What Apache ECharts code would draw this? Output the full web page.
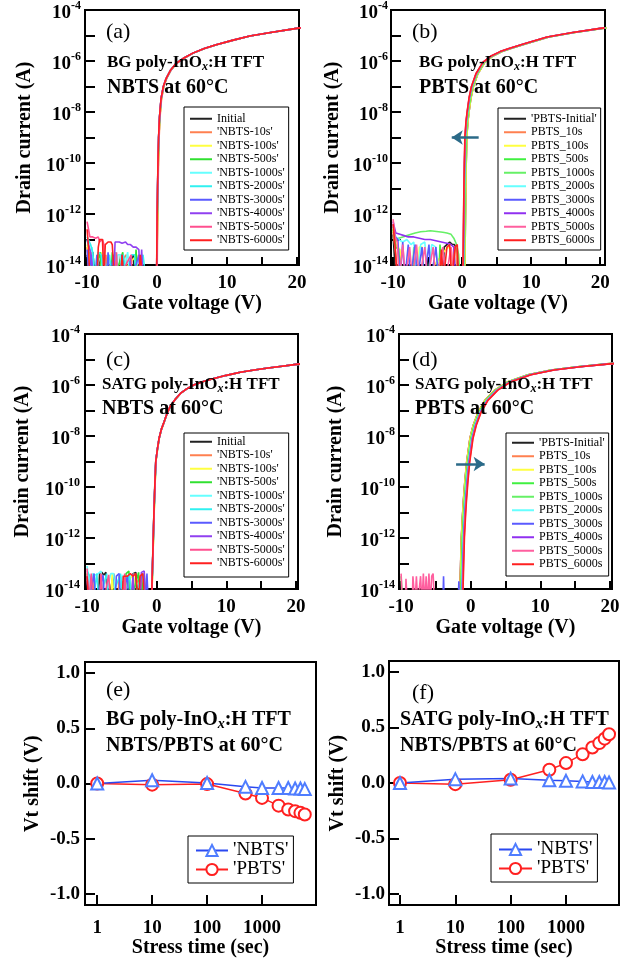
<!DOCTYPE html>
<html>
<head>
<meta charset="utf-8">
<script src="https://cdn.jsdelivr.net/npm/echarts@6/dist/echarts.min.js"></script>
<style>
  html, body { margin: 0; padding: 0; background: #fff; }
  #chart { width: 626px; height: 959px; }
</style>
</head>
<body>
<div id="chart"></div>
<script>
const F = '"Liberation Serif", "Times New Roman", serif';

// stress times (s), t=1 stands for the initial curve
const stressTime = [1, 10, 100, 500, 1000, 2000, 3000, 4000, 5000, 6000];
// Vt shift (V) (e) and (f)
const nbtsBG = [0, 0.03, 0.005, -0.03, -0.04, -0.04, -0.04, -0.045, -0.045, -0.05];
const pbtsBG = [0, -0.01, -0.005, -0.09, -0.13, -0.2, -0.235, -0.25, -0.265, -0.28];
const nbtsSATG = [0, 0.035, 0.04, 0.025, 0.02, 0.015, 0.01, 0.01, 0.01, 0.005];
const pbtsSATG = [0, -0.01, 0.03, 0.12, 0.18, 0.26, 0.32, 0.36, 0.40, 0.44];

const nbtsNames = ['Initial', "'NBTS-10s'", "'NBTS-100s'", "'NBTS-500s'", "'NBTS-1000s'", "'NBTS-2000s'", "'NBTS-3000s'", "'NBTS-4000s'", "'NBTS-5000s'", "'NBTS-6000s'"];
const pbtsNames = ["'PBTS-Initial'", 'PBTS_10s', 'PBTS_100s', 'PBTS_500s', 'PBTS_1000s', 'PBTS_2000s', 'PBTS_3000s', 'PBTS_4000s', 'PBTS_5000s', 'PBTS_6000s'];
const nbtsColors = ['#222222', '#ff8050', '#ffff40', '#30e030', '#66ffff', '#30f0f0', '#5a5aff', '#9040f0', '#ff4f8f', '#ff2020'];
const pbtsColors = ['#222222', '#ff8050', '#ffff40', '#40f040', '#66f066', '#66ffff', '#5a5aff', '#9030f0', '#ff5f9f', '#ff2020'];

// on-state part of the initial transfer curves: [Vg (V), log10 Id (A)]
const onA = [[-0.02,-14.6],[0,-14],[0.03,-13],[0.07,-12],[0.12,-11],[0.18,-10],[0.27,-9],[0.4,-8.2],[0.62,-7.48],[0.95,-7.0],[1.34,-6.69],[2.0,-6.35],[2.78,-6.09],[3.9,-5.88],[5.17,-5.69],[6.8,-5.51],[8.5,-5.36],[10.8,-5.19],[13.3,-5.02],[16.5,-4.87],[20,-4.72],[20.6,-4.7]];
const onB = [[0.38,-14.6],[0.41,-14],[0.45,-13],[0.49,-12],[0.54,-11],[0.6,-10],[0.68,-9],[0.83,-8.4],[1.0,-8],[1.28,-7.45],[1.63,-7.0],[2.28,-6.5],[3.28,-6.05],[4.48,-5.8],[5.78,-5.63],[7.18,-5.5],[9.28,-5.32],[12.58,-5.06],[16.28,-4.88],[20.28,-4.72],[20.9,-4.7]];
const onC = [[-0.75,-14.6],[-0.7,-14],[-0.6,-13],[-0.5,-12],[-0.4,-11],[-0.28,-10],[-0.14,-9],[0.1,-8.5],[0.33,-8.1],[0.65,-7.75],[1.05,-7.45],[1.5,-7.1],[2.0,-6.8],[2.7,-6.55],[3.4,-6.33],[4.3,-6.15],[5.3,-6.0],[6.7,-5.86],[8.2,-5.74],[10,-5.62],[12,-5.5],[14,-5.41],[16,-5.33],[18,-5.26],[20,-5.19],[20.6,-5.18]];
const onD = [[-1.59,-14.6],[-1.54,-14],[-1.44,-13],[-1.34,-12],[-1.19,-11.2],[-1.06,-10.6],[-0.84,-9.8],[-0.58,-9.03],[-0.11,-8.1],[0.37,-7.58],[1.08,-7.06],[2.04,-6.6],[3.46,-6.2],[5.36,-5.87],[8.23,-5.6],[11.56,-5.41],[15.36,-5.28],[19.56,-5.17],[20.6,-5.15]];

// off-state noise per stress step: [Vg (V), log10 Id (A)], -14.6 = below the axis floor
const noiseA = [
  [[-10,-13.6],[-9.8,-14.6],[-9.2,-13.5],[-8.8,-14.6],[-7.9,-13.6],[-7.7,-14.6],[-5.4,-14.6],[-5.2,-13.6],[-5,-14.6],[-3.4,-13.6],[-3.2,-14.6]],
  [[-10,-13.3],[-9.7,-14.6],[-9.3,-13.5],[-9,-14.6],[-7.5,-14.6],[-7.3,-13.6],[-7.1,-14.6],[-4.4,-13.6],[-4.2,-14.6]],
  [[-10,-13.2],[-9.6,-13.7],[-9.4,-14.6],[-8.2,-14.6],[-8,-13.5],[-7.8,-14.6],[-6.0,-13.6],[-5.8,-14.6],[-2.9,-13.6],[-2.7,-14.6]],
  [[-10,-13.0],[-9.5,-13.6],[-9.2,-14.6],[-8.1,-13.5],[-7.9,-14.6],[-6.6,-14.6],[-6.4,-13.5],[-6.2,-14.6],[-4.9,-13.5],[-4.7,-14.6],[-3.2,-14.6],[-3,-13.4],[-2.8,-14.6]],
  [[-10,-13.0],[-9.6,-13.5],[-9.3,-13.3],[-9,-14.6],[-8.6,-13.6],[-8.2,-14.6],[-7.6,-13.5],[-7.2,-14.6],[-5.8,-14.6],[-5.6,-13.6],[-5.2,-13.6],[-5,-14.6],[-4.2,-13.5],[-3.8,-14.6],[-2.4,-13.6],[-2.2,-14.6]],
  [[-10,-12.9],[-9.5,-13.2],[-9.2,-13.5],[-8.8,-14.6],[-8.4,-13.5],[-8,-13.6],[-7.6,-14.6],[-6.8,-13.6],[-6.4,-14.6],[-5.9,-13.5],[-5.6,-14.6],[-4.8,-13.6],[-4.4,-14.6],[-3.6,-13.6],[-3.2,-13.6],[-3,-14.6],[-2,-13.6],[-1.6,-14.6]],
  [[-10,-13.4],[-9.7,-14.6],[-9.4,-13.6],[-9.2,-14.6],[-8.8,-14.6],[-8.6,-13.6],[-8.3,-14.6],[-7.2,-14.6],[-7,-13.5],[-6.8,-14.6],[-6.2,-13.6],[-6,-14.6],[-5.2,-14.6],[-5,-13.6],[-4.7,-14.6],[-4,-14.6],[-3.8,-13.7],[-3.6,-14.6],[-2.6,-13.6],[-2.4,-14.6]],
  [[-10,-13.0],[-9.5,-13.5],[-9,-14.6],[-6.2,-14.6],[-6,-13.1],[-5.4,-13.1],[-5,-13.15],[-4.5,-13.1],[-4.2,-13.2],[-3.8,-13.2],[-3.4,-13.3],[-3,-13.3],[-2.6,-13.4],[-2.4,-14.6],[-2.2,-13.4],[-2,-14.6]],
  [[-10,-12.3],[-9.8,-12.6],[-9.6,-12.9],[-9.2,-12.9],[-8.8,-12.95],[-8.4,-12.9],[-8.2,-13.1],[-7.8,-13.0],[-7.6,-13.2],[-7.4,-14.6],[-6,-14.6],[-5.8,-13.5],[-5.6,-14.6],[-3.7,-13.6],[-3.5,-14.6]],
  [[-10,-12.6],[-9.8,-13.3],[-9.6,-14.6],[-8.6,-14.6],[-8.4,-13.3],[-8.2,-13.0],[-7.8,-13.0],[-7.6,-14.6],[-7.4,-13.2],[-7,-13.1],[-6.6,-13.1],[-6.4,-13.2],[-6.1,-14.6],[-5.2,-14.6],[-5,-13.6],[-4.8,-14.6],[-2.6,-14.6],[-2.4,-13.6],[-2.2,-13.6],[-2,-14.6]]
];
const noiseB = [
  [[-10,-12.8],[-9.6,-14.6],[-2.8,-14.6],[-2.6,-13.3],[-2.2,-13.2],[-1.8,-13.1],[-1.4,-13.2],[-1.1,-13.2],[-0.8,-13.4],[-0.6,-14.6]],
  [[-10,-12.7],[-9.6,-13.6],[-9.3,-14.6],[-1.4,-14.6],[-1.2,-13.3],[-0.9,-13.3],[-0.7,-14.6]],
  [[-10,-12.6],[-9.6,-13.2],[-9,-13.4],[-8.6,-14.6],[-6.4,-14.6],[-6.2,-13.3],[-5.8,-13.3],[-5.6,-14.6],[-2.4,-13.4],[-2,-13.3],[-1.6,-13.4],[-1.3,-14.6]],
  [[-10,-12.6],[-9.6,-13.3],[-9.2,-13.4],[-8.8,-14.6],[-7.2,-14.6],[-7,-13.3],[-6.8,-14.6],[-3.4,-14.6],[-3.2,-13.2],[-2.8,-14.6]],
  [[-10,-12.5],[-9.6,-13.0],[-9.2,-12.95],[-8.6,-12.9],[-8,-12.85],[-7.4,-12.8],[-6.8,-12.75],[-6,-12.7],[-5.2,-12.68],[-4.6,-12.66],[-4,-12.68],[-3.4,-12.7],[-2.8,-12.72],[-2.2,-12.75],[-1.6,-12.8],[-1.2,-12.95],[-0.8,-13.2],[-0.5,-13.6],[-0.3,-14.6]],
  [[-10,-12.5],[-9.6,-12.9],[-9.2,-13.0],[-8.6,-13.1],[-8,-13.0],[-7.4,-13.2],[-7,-13.1],[-6.6,-14.6],[-6,-13.2],[-5.4,-13.1],[-5,-14.6],[-4.4,-13.2],[-3.8,-13.3],[-3.4,-14.6]],
  [[-10,-12.4],[-9.7,-12.9],[-9.3,-13.0],[-9,-14.6],[-8.6,-13.1],[-8.3,-14.6],[-7.8,-13.2],[-7.5,-14.6],[-6.8,-13.2],[-6.5,-14.6],[-5.8,-13.3],[-5.5,-14.6],[-4.8,-13.2],[-4.5,-14.6],[-3.8,-13.3],[-3.4,-14.6]],
  [[-10,-12.3],[-9.6,-12.75],[-9,-12.8],[-8.4,-12.85],[-7.8,-12.9],[-7,-12.9],[-6.2,-12.95],[-5.4,-13.0],[-4.6,-13.0],[-3.8,-13.05],[-3,-13.1],[-2.2,-13.15],[-1.6,-13.2],[-1.2,-13.3],[-0.9,-14.6]],
  [[-10,-12.2],[-9.7,-12.9],[-9.4,-13.1],[-9.1,-14.6],[-8.6,-13.2],[-8.2,-14.6],[-7.6,-13.3],[-7.2,-14.6],[-6.6,-13.2],[-6.2,-14.6],[-5.4,-13.3],[-5,-14.6],[-4.2,-13.3],[-3.8,-14.6],[-2.8,-13.3],[-2.4,-14.6],[-1.6,-13.3],[-1.2,-14.6]],
  [[-10,-12.4],[-9.7,-13.3],[-9.4,-14.6],[-3.2,-14.6],[-3,-13.4],[-2.7,-14.6],[-2.2,-13.3],[-1.8,-13.2],[-1.5,-14.6],[-1,-13.3],[-0.7,-13.2],[-0.5,-14.6]]
];
const noiseC = [
  [[-10,-13.4],[-9.6,-14.6],[-8.4,-14.6],[-8.2,-13.4],[-7.9,-13.35],[-7.6,-13.45],[-7.3,-13.35],[-7,-14.6],[-6.2,-13.4],[-5.9,-14.6],[-3.6,-14.6],[-3.4,-13.4],[-3,-13.35],[-2.8,-14.6]],
  [[-10,-13.5],[-9.7,-14.6],[-9.2,-13.5],[-9,-14.6],[-5.6,-14.6],[-5.4,-13.5],[-5.2,-14.6],[-2.2,-13.5],[-2,-14.6]],
  [[-10,-13.4],[-9.6,-14.6],[-6.6,-14.6],[-6.4,-13.4],[-6.2,-14.6],[-3.3,-13.4],[-3.1,-14.6]],
  [[-10,-13.5],[-9.6,-14.6],[-4.6,-14.6],[-4.4,-13.4],[-4,-13.3],[-3.8,-14.6],[-2.6,-13.35],[-2.4,-14.6],[-1.8,-13.4],[-1.6,-14.6]],
  [[-10,-13.1],[-9.8,-13.5],[-9.6,-14.6],[-9.2,-13.4],[-8.8,-13.45],[-8.4,-13.4],[-8,-13.3],[-7.6,-14.6],[-6.6,-13.4],[-6.2,-13.4],[-5.8,-14.6],[-4.9,-13.45],[-4.6,-14.6]],
  [[-10,-13.3],[-9.6,-13.5],[-9.2,-14.6],[-8.6,-13.4],[-8.3,-14.6],[-7.2,-13.4],[-6.8,-14.6],[-5.2,-13.4],[-4.8,-14.6],[-3.9,-13.4],[-3.6,-14.6],[-2,-13.4],[-1.6,-14.6]],
  [[-10,-13.5],[-9.8,-14.6],[-9,-13.4],[-8.8,-14.6],[-7.7,-13.45],[-7.5,-14.6],[-6,-14.6],[-5.8,-13.5],[-5.4,-13.4],[-5.2,-14.6],[-4.2,-13.5],[-4,-14.6],[-1.6,-14.6],[-1.4,-13.4],[-1.2,-14.6]],
  [[-10,-13.5],[-9.7,-14.6],[-3.6,-14.6],[-3.4,-13.4],[-3.2,-14.6],[-2.4,-14.6],[-2.2,-13.35],[-1.8,-13.3],[-1.5,-14.6]],
  [[-10,-13.2],[-9.8,-14.6],[-9.4,-13.4],[-9.1,-14.6],[-8.2,-14.6],[-8,-13.4],[-7.7,-14.6],[-6.9,-13.45],[-6.6,-14.6],[-4.8,-14.6],[-4.6,-13.4],[-4.3,-14.6]],
  [[-10,-13.5],[-9.8,-14.6],[-5,-14.6],[-4.8,-13.5],[-4.2,-13.5],[-3.8,-13.4],[-3.4,-13.5],[-3,-13.4],[-2.6,-14.6],[-2.4,-13.5],[-2,-13.4],[-1.7,-14.6]]
];
const noiseD = [
  [], [], [],
  [[-10,-13.5],[-9.8,-14.6]],
  [], [],
  [[-4,-14.6],[-3.9,-13.5],[-3.8,-14.6],[-1.8,-14.6],[-1.7,-13.7],[-1.6,-14.6]],
  [],
  [[-10,-13.4],[-9.8,-14.6],[-9.4,-14.6],[-9.3,-13.6],[-9.1,-14.6],[-8.4,-14.6],[-8.3,-13.5],[-8.1,-13.5],[-8,-14.6],[-7.8,-13.5],[-7.6,-14.6],[-7.2,-13.5],[-7,-14.6],[-6.8,-13.4],[-6.6,-14.6],[-6.4,-13.5],[-6.2,-14.6],[-6,-13.4],[-5.8,-14.6],[-5.6,-13.5],[-5.4,-13.4],[-5.2,-14.6]],
  []
];

const gateTicks = [-10, -5, 0, 5, 10, 15, 20];
const gateLabels = [-10, 0, 10, 20];
const currentTicks = [1e-14, 1e-13, 1e-12, 1e-11, 1e-10, 1e-9, 1e-8, 1e-7, 1e-6, 1e-5, 1e-4];
const currentLabels = [1e-14, 1e-12, 1e-10, 1e-8, 1e-6, 1e-4];
const vtTicks = [-1, -0.5, 0, 0.5, 1];
const timeTicks = [1, 10, 100, 1000];

const chart = echarts.init(document.getElementById('chart'));

const tickFont = { color: '#000', fontFamily: F, fontSize: 19, fontWeight: 'bold' };
const nameFont = { color: '#000', fontFamily: F, fontSize: 20, fontWeight: 'bold' };

function transfer(base, shift, noise) {
  const pts = noise.map(p => [p[0], Math.pow(10, p[1])]);
  base.forEach(p => pts.push([p[0] + shift, Math.pow(10, p[1])]));
  return pts;
}

function gateAxis(i, max) {
  return {
    type: 'value', gridIndex: i, min: -10.3, max: max,
    name: 'Gate voltage (V)', nameLocation: 'middle', nameGap: 26, nameTextStyle: nameFont,
    axisLine: { show: false, onZero: false }, splitLine: { show: false },
    axisTick: { inside: true, length: 8, customValues: gateTicks, lineStyle: { color: '#000', width: 2 } },
    axisLabel: Object.assign({ customValues: gateLabels, margin: 9 }, tickFont)
  };
}

function currentAxis(i, gap, margin) {
  return {
    type: 'log', logBase: 10, gridIndex: i, min: 9.95e-15, max: 1.005e-4,
    name: 'Drain current (A)', nameLocation: 'middle', nameRotate: 90, nameGap: gap, nameTextStyle: nameFont,
    axisLine: { show: false, onZero: false }, splitLine: { show: false },
    axisTick: { inside: true, length: 10, customValues: currentTicks, lineStyle: { color: '#000', width: 2 } },
    axisLabel: {
      customValues: currentLabels, margin: margin,
      formatter: v => '{b|10}{s|' + Math.round(Math.log10(v)) + '}',
      rich: {
        b: { color: '#000', fontFamily: F, fontSize: 19, fontWeight: 'bold', padding: [6, 0, 0, 0] },
        s: { color: '#000', fontFamily: F, fontSize: 12, fontWeight: 'bold', padding: [0, 0, 8, 0] }
      }
    }
  };
}

function timeAxis(i, min, max) {
  return {
    type: 'log', logBase: 10, gridIndex: i, min: min, max: max,
    name: 'Stress time (sec)', nameLocation: 'middle', nameGap: 28, nameTextStyle: nameFont,
    axisLine: { show: false, onZero: false }, splitLine: { show: false },
    axisTick: { inside: true, length: 10, customValues: timeTicks, lineStyle: { color: '#000', width: 2 } },
    axisLabel: Object.assign({ customValues: timeTicks, margin: 13, formatter: v => String(Math.round(v)) }, tickFont)
  };
}

function vtAxis(i, gap, margin) {
  return {
    type: 'value', gridIndex: i, min: -1.1, max: 1.1,
    name: 'Vt shift (V)', nameLocation: 'middle', nameRotate: 90, nameGap: gap, nameTextStyle: nameFont,
    axisLine: { show: false, onZero: false }, splitLine: { show: false },
    axisTick: { inside: true, length: 10, customValues: vtTicks, lineStyle: { color: '#000', width: 2 } },
    axisLabel: Object.assign({ customValues: vtTicks, margin: margin, formatter: v => v.toFixed(1) }, tickFont)
  };
}

function curveLegend(names, left, top, padding) {
  return {
    data: names, orient: 'vertical', left: left, top: top, padding: padding,
    itemWidth: 22, itemHeight: 2, itemGap: 0, icon: 'rect', selectedMode: false,
    borderColor: '#000', borderWidth: 1, borderRadius: 0, backgroundColor: '#fff',
    textStyle: { color: '#000', fontFamily: F, fontSize: 12, lineHeight: 13.5 }
  };
}

function shiftLegend(left, top, padding, width) {
  return {
    data: ["'NBTS'", "'PBTS'"], orient: 'vertical', left: left, top: top, padding: padding,
    itemWidth: width, itemHeight: 14, itemGap: 0, selectedMode: false,
    borderColor: '#000', borderWidth: 1, borderRadius: 0, backgroundColor: '#fff',
    textStyle: { color: '#000', fontFamily: F, fontSize: 19, lineHeight: 19 }
  };
}

const series = [];
function addTransfer(grid, names, colors, base, shifts, noise) {
  names.forEach((n, i) => series.push({
    type: 'line', name: n, xAxisIndex: grid, yAxisIndex: grid,
    data: transfer(base, shifts[i], noise[i]),
    symbol: 'none', showSymbol: false, clip: true, animation: false,
    lineStyle: { color: colors[i], width: 1.6 }, itemStyle: { color: colors[i] }
  }));
}
addTransfer(0, nbtsNames, nbtsColors, onA, nbtsBG, noiseA);
addTransfer(1, pbtsNames, pbtsColors, onB, pbtsBG, noiseB);
addTransfer(2, nbtsNames, nbtsColors, onC, nbtsSATG, noiseC);
addTransfer(3, pbtsNames, pbtsColors, onD, pbtsSATG, noiseD);

const arrowStyle = { color: '#2b6a88', width: 2.5, type: 'solid' };
series[19].markLine = {
  silent: true, symbol: ['none', 'arrow'], symbolSize: 11, label: { show: false },
  lineStyle: arrowStyle, emphasis: { disabled: true },
  data: [[{ coord: [2.4, 1e-9] }, { coord: [-1.5, 1e-9] }]]
};
series[39].markLine = {
  silent: true, symbol: ['none', 'arrow'], symbolSize: 11, label: { show: false },
  lineStyle: arrowStyle, emphasis: { disabled: true },
  data: [[{ coord: [-2.1, 8e-10] }, { coord: [2.0, 8e-10] }]]
};

function addShift(grid, nbts, pbts) {
  series.push({
    type: 'line', name: "'PBTS'", xAxisIndex: grid, yAxisIndex: grid,
    data: stressTime.map((t, i) => [t, pbts[i]]), animation: false,
    symbol: 'emptyCircle', symbolSize: 12,
    lineStyle: { color: '#ff2020', width: 1.5 }, itemStyle: { color: '#ff2020', borderWidth: 1.5 }
  });
  series.push({
    type: 'line', name: "'NBTS'", xAxisIndex: grid, yAxisIndex: grid,
    data: stressTime.map((t, i) => [t, nbts[i]]), animation: false,
    symbol: 'emptyTriangle', symbolSize: 12,
    lineStyle: { color: '#2a48f0', width: 1.5 }, itemStyle: { color: '#4f7dff', borderWidth: 1.5 }
  });
}
addShift(4, nbtsBG, pbtsBG);
addShift(5, nbtsSATG, pbtsSATG);

function note(x, y, text, size, weight) {
  return {
    type: 'text', x: x, y: y, z: 100, silent: true,
    style: {
      text: text, fill: '#000', fontFamily: F, fontSize: size, fontWeight: weight,
      align: 'left', verticalAlign: 'middle',
      rich: {
        x: { fill: '#000', fontFamily: F, fontSize: Math.round(size * 0.72), fontStyle: 'italic', fontWeight: 'bold', padding: [Math.round(size * 0.45), 0, 0, 0] }
      }
    }
  };
}

const frame = { show: true, borderColor: '#000', borderWidth: 2, backgroundColor: 'transparent' };

chart.setOption({
  backgroundColor: '#fff',
  animation: false,
  grid: [
    Object.assign({ left: 85, top: 10, width: 214, height: 255 }, frame),
    Object.assign({ left: 391, top: 10, width: 214, height: 255 }, frame),
    Object.assign({ left: 85, top: 334, width: 213, height: 255 }, frame),
    Object.assign({ left: 399, top: 334, width: 213, height: 255 }, frame),
    Object.assign({ left: 85, top: 662, width: 231, height: 251 }, frame),
    Object.assign({ left: 389, top: 661, width: 230, height: 251 }, frame)
  ],
  xAxis: [
    gateAxis(0, 20.3), gateAxis(1, 20.7), gateAxis(2, 20.3), gateAxis(3, 20.3),
    timeAxis(4, 0.6, 9600), timeAxis(5, 0.633, 9080)
  ],
  yAxis: [
    currentAxis(0, 50, 4), currentAxis(1, 48, 3), currentAxis(2, 52, 5), currentAxis(3, 53, 4),
    vtAxis(4, 42, 5), vtAxis(5, 41, 4)
  ],
  legend: [
    curveLegend(nbtsNames, 184, 107, [5, 4, 3, 6]),
    curveLegend(pbtsNames, 498, 108, [4, 4, 3, 6]),
    curveLegend(nbtsNames, 184, 433, [2, 4, 7, 6]),
    curveLegend(pbtsNames, 506, 433, [3, 4, 5, 6]),
    shiftLegend(188, 836, [5, 5, 4, 7], 32),
    shiftLegend(491, 834, [6, 5, 4, 7], 33)
  ],
  series: series,
  graphic: [
    note(106, 32, '(a)', 22, 'normal'),
    note(107, 63, 'BG poly-InO{x|x}:H TFT', 17, 'bold'),
    note(107, 88, 'NBTS at 60°C', 20, 'bold'),
    note(412, 32, '(b)', 22, 'normal'),
    note(419, 63, 'BG poly-InO{x|x}:H TFT', 17, 'bold'),
    note(419, 88, 'PBTS at 60°C', 20, 'bold'),
    note(106, 360, '(c)', 22, 'normal'),
    note(102, 385, 'SATG poly-InO{x|x}:H TFT', 17, 'bold'),
    note(102, 409, 'NBTS at 60°C', 20, 'bold'),
    note(412, 360, '(d)', 22, 'normal'),
    note(415, 385, 'SATG poly-InO{x|x}:H TFT', 17, 'bold'),
    note(415, 409, 'PBTS at 60°C', 20, 'bold'),
    note(106, 690, '(e)', 22, 'normal'),
    note(106, 720, 'BG poly-InO{x|x}:H TFT', 20, 'bold'),
    note(106, 746, 'NBTS/PBTS at 60°C', 20, 'bold'),
    note(412, 693, '(f)', 22, 'normal'),
    note(400, 720, 'SATG poly-InO{x|x}:H TFT', 20, 'bold'),
    note(400, 746, 'NBTS/PBTS at 60°C', 20, 'bold')
  ]
});
</script>
</body>
</html>
